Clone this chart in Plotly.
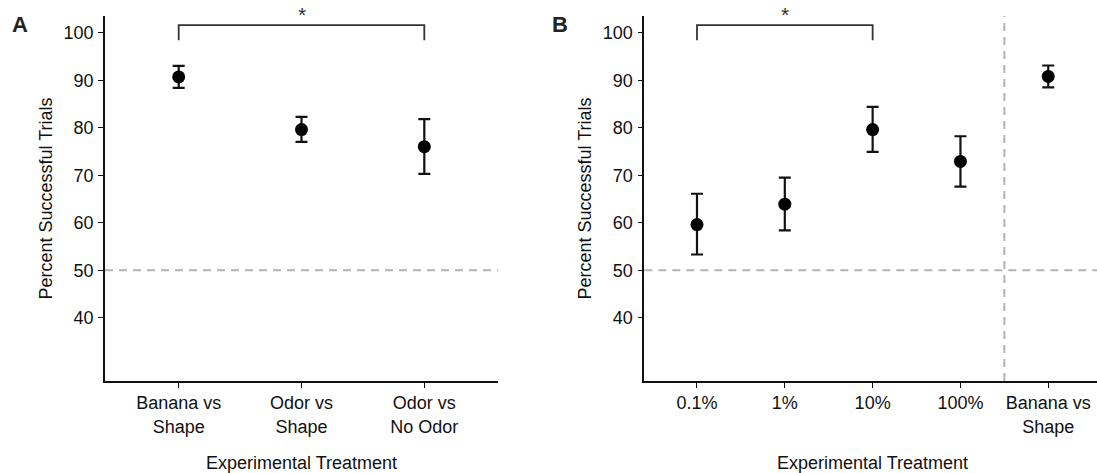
import plotly.graph_objects as go

# ---- data -------------------------------------------------------------
cats_a = ["Banana vs<br>Shape", "Odor vs<br>Shape", "Odor vs<br>No Odor"]
mean_a = [90.7, 79.6, 76.0]
upper_a = [93.0, 82.3, 81.8]
lower_a = [88.4, 77.0, 70.3]

cats_b = ["0.1%", "1%", "10%", "100%", "Banana vs<br>Shape"]
mean_b = [59.6, 63.9, 79.6, 72.9, 90.8]
upper_b = [66.1, 69.5, 84.4, 78.2, 93.1]
lower_b = [53.3, 58.4, 74.9, 67.6, 88.5]

y_ticks = [40, 50, 60, 70, 80, 90, 100]
chance_level = 50
# significance brackets: (first category index, second category index)
sig_a = (0, 2)
sig_b = (0, 2)
# divider between concentration series and the reference treatment
divider_b = 3.5

# ---- styling ----------------------------------------------------------
W, H = 1097, 473
FONT = "Liberation Sans, Arial, sans-serif"
TXT = 18
INK = "#111111"
DASH_COL = "#b4b4b4"
Y_RANGE = [26.67, 103.52]
Y_DOM = [92 / H, 457 / H]
XA_DOM = [105 / W, 498 / W]
XB_DOM = [644.3 / W, 1.0]
BRACKET_TOP = 101.6
BRACKET_LOW = 98.4
STAR_Y = 103.9


def px(x, y):
    """pixel position from top-left -> paper coordinates"""
    return x / W, 1 - y / H


fig = go.Figure()


def add_points(x, mean, up, lo, xref, yref):
    fig.add_trace(go.Scatter(
        x=x, y=mean, mode="markers", xaxis=xref, yaxis=yref,
        marker=dict(color="black", size=13),
        error_y=dict(type="data", symmetric=False,
                     array=[u - m for u, m in zip(up, mean)],
                     arrayminus=[m - l for m, l in zip(mean, lo)],
                     color=INK, thickness=2.2, width=6),
        showlegend=False, hoverinfo="skip"))


xa = list(range(len(cats_a)))
xb = list(range(len(cats_b)))
add_points(xa, mean_a, upper_a, lower_a, "x", "y")
add_points(xb, mean_b, upper_b, lower_b, "x2", "y2")

axis_common = dict(
    showline=True, linecolor=INK, linewidth=1.6, mirror=False,
    ticks="outside", ticklen=5, tickwidth=1.4, tickcolor=INK,
    showgrid=False, zeroline=False,
    tickfont=dict(family=FONT, size=TXT, color=INK),
)

fig.update_layout(
    width=W, height=H,
    margin=dict(l=0, r=0, t=0, b=0),
    paper_bgcolor="white", plot_bgcolor="white",
    font=dict(family=FONT, size=TXT, color=INK),
    xaxis=dict(domain=XA_DOM, anchor="y", range=[-0.6, len(cats_a) - 0.4],
               tickvals=xa, ticktext=cats_a, **axis_common),
    yaxis=dict(domain=Y_DOM, anchor="x", range=Y_RANGE,
               tickvals=y_ticks, ticklabelstandoff=1, **axis_common),
    xaxis2=dict(domain=XB_DOM, anchor="y2", range=[-0.6, 4.555],
                tickvals=xb, ticktext=cats_b, **axis_common),
    yaxis2=dict(domain=Y_DOM, anchor="x2", range=Y_RANGE,
                tickvals=y_ticks, ticklabelstandoff=1, **axis_common),
)

# chance reference lines
for xr, yr in (("x", "y"), ("x2", "y2")):
    fig.add_shape(type="line", xref=f"{xr} domain", yref=yr,
                  x0=0, x1=1, y0=chance_level, y1=chance_level,
                  line=dict(color=DASH_COL, width=2, dash="8px,6px"), layer="below")
fig.add_shape(type="line", xref="x2", yref="y2 domain",
              x0=divider_b, x1=divider_b, y0=0, y1=1,
              line=dict(color=DASH_COL, width=2, dash="8px,6px"), layer="below")

# significance brackets with stars
star_dom_y = (STAR_Y - Y_RANGE[0]) / (Y_RANGE[1] - Y_RANGE[0])
for (i, j), xr, yr in ((sig_a, "x", "y"), (sig_b, "x2", "y2")):
    fig.add_shape(type="path", xref=xr, yref=yr,
                  path=f"M {i},{BRACKET_LOW} L {i},{BRACKET_TOP} L {j},{BRACKET_TOP} L {j},{BRACKET_LOW}",
                  line=dict(color="#333333", width=1.8))
    fig.add_annotation(x=(i + j) / 2, y=star_dom_y, xref=xr, yref=f"{yr} domain",
                       text="*", showarrow=False, xanchor="center", yanchor="middle",
                       font=dict(family=FONT, size=21, color="#333333"))

# axis titles
for cx, ylab_x in (((105 + 498) / 2, 45), ((644.3 + 1101) / 2, 584)):
    x, y = px(cx, 463)
    fig.add_annotation(x=x, y=y, xref="paper", yref="paper",
                       xanchor="center", yanchor="middle",
                       text="Experimental Treatment", showarrow=False,
                       font=dict(family=FONT, size=TXT, color=INK))
    x, y = px(ylab_x, 198.5)
    fig.add_annotation(x=x, y=y, xref="paper", yref="paper",
                       xanchor="center", yanchor="middle",
                       text="Percent Successful Trials", textangle=-90, showarrow=False,
                       font=dict(family=FONT, size=TXT, color=INK))

# panel letters
for letter, lx in (("A", 20), ("B", 560)):
    x, y = px(lx, 24)
    fig.add_annotation(x=x, y=y, xref="paper", yref="paper",
                       xanchor="center", yanchor="middle",
                       text=f"<b>{letter}</b>", showarrow=False,
                       font=dict(family=FONT, size=22, color="#222222"))

fig.write_html("out.html")
